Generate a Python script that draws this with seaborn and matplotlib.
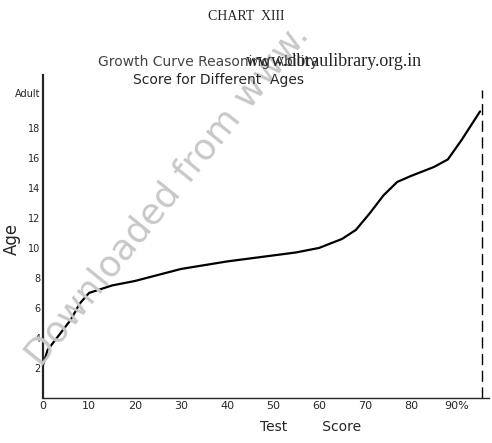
import seaborn as sns
import matplotlib.pyplot as plt
import pandas as pd

# values
score = [0, 1, 3, 6, 8, 10, 15, 20, 30, 40, 45, 55, 60, 65, 68, 71, 74, 77, 80, 85, 88, 91, 95]
age = [2.2, 3.2, 4.0, 5.2, 6.3, 7.0, 7.5, 7.8, 8.6, 9.1, 9.3, 9.7, 10.0, 10.6, 11.2, 12.3, 13.5, 14.4, 14.8, 15.4, 15.9, 17.2, 19.1]
x_ticks = [0, 10, 20, 30, 40, 50, 60, 70, 80, 90]
x_labels = ['0', '10', '20', '30', '40', '50', '60', '70', '80', '90%']
y_ticks = [2, 4, 6, 8, 10, 12, 14, 16, 18, 20.3]
y_labels = ['2', '4', '6', '8', '10', '12', '14', '16', '18', 'Adult']

df = pd.DataFrame({'score': score, 'age': age})

sns.set_style('white')
plt.rcParams['font.family'] = ['DejaVu Sans']

fig = plt.figure(figsize=(4.92, 4.43), dpi=100)
ax = fig.add_axes([0.0874, 0.1016, 0.907, 0.779])

# diagonal watermark of the scan, behind everything
fig.text(0.34, 0.56, 'Downloaded from www.', fontsize=26, color='#c8c8c8',
         rotation=51, ha='center', va='center', zorder=0)
ax.patch.set_alpha(0)

sns.lineplot(data=df, x='score', y='age', color='black', linewidth=1.6, ax=ax)
ax.axvline(95.5, ymin=0, ymax=20.5 / 23, color='black', linewidth=1, linestyle=(0, (8, 4)))

ax.set_xlim(0, 97)
ax.set_ylim(0, 23)
sns.despine(ax=ax)
ax.spines['left'].set_bounds(0, 21.5)
ax.spines['left'].set_linewidth(1.6)
ax.spines['bottom'].set_linewidth(1.0)

ax.set_xticks(x_ticks)
ax.set_xticklabels(x_labels, fontsize=8)
ax.set_yticks(y_ticks)
ax.set_yticklabels(y_labels, fontsize=7)
ax.tick_params(axis='both', direction='in', length=4, width=1, pad=2)
ax.set_xlabel('Test        Score', fontsize=10)
ax.xaxis.set_label_coords(0.6, -0.065)
ax.set_ylabel('Age', fontsize=12)
ax.yaxis.set_label_coords(-0.05, 0.46)

# headings
fig.text(0.5, 0.955, 'CHART  XIII', fontsize=10, family='Liberation Serif', ha='center')
fig.text(0.2, 0.85, 'Growth Curve Reasoning Ability', fontsize=10, color='#444444')
fig.text(0.27, 0.81, 'Score for Different  Ages', fontsize=10)
fig.text(0.5, 0.85, 'www.dbraulibrary.org.in', fontsize=13, family='Liberation Serif')

fig.savefig('out.png', dpi=100)
